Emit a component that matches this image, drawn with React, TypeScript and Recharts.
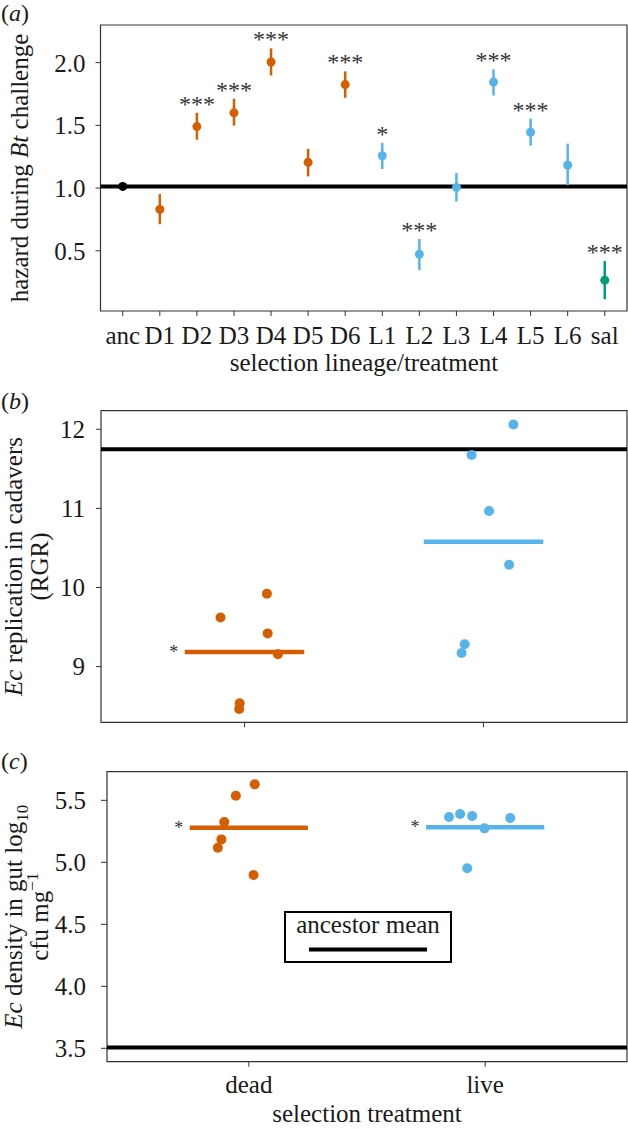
import React from 'react';
import {
  ScatterChart,
  Scatter,
  XAxis,
  YAxis,
  ErrorBar,
  ReferenceLine,
  ReferenceArea,
  Legend,
} from 'recharts';

const FONT = '"Liberation Serif", "Times New Roman", serif';
const FS = 25;
const ORANGE = '#D55E00';
const BLUE = '#56B4E9';
const GREEN = '#009E73';
const BLACK = '#000000';
const TXT = '#1a1a1a';
const FRAME = '#333333';

// ---------- Panel (a) ----------
const lineages = ['anc', 'D1', 'D2', 'D3', 'D4', 'D5', 'D6', 'L1', 'L2', 'L3', 'L4', 'L5', 'L6', 'sal'];
const lineageGroup = ['anc', 'D', 'D', 'D', 'D', 'D', 'D', 'L', 'L', 'L', 'L', 'L', 'L', 'sal'];
const hazard = [1.013, 0.83, 1.49, 1.6, 2.005, 1.205, 1.825, 1.258, 0.472, 1.005, 1.845, 1.445, 1.184, 0.266];
const hazardLow = [1.013, 0.712, 1.386, 1.498, 1.898, 1.093, 1.72, 1.152, 0.346, 0.893, 1.738, 1.338, 1.022, 0.114];
const hazardHigh = [1.013, 0.952, 1.6, 1.712, 2.114, 1.312, 1.93, 1.36, 0.594, 1.12, 1.946, 1.554, 1.354, 0.418];
const hazardSig = ['', '', '***', '***', '***', '', '***', '*', '***', '', '***', '***', '', '***'];
const hazardTicks = [0.5, 1.0, 1.5, 2.0];
const ancestorHazard = 1.013;

// ---------- Panel (b) ----------
const treatments = ['dead', 'live'];
const deadRGR = [9.62, 9.92, 9.42, 9.157, 8.536, 8.464];
const deadRGRJitter = [-0.1, 0.094, 0.097, 0.14, -0.02, -0.022];
const liveRGR = [12.06, 11.676, 10.967, 10.287, 9.283, 9.173];
const liveRGRJitter = [0.125, -0.05, 0.023, 0.107, -0.079, -0.092];
const meanRGR = [9.186, 10.578];
const sigRGR = ['*', ''];
const rgrTicks = [9, 10, 11, 12];
const ancestorRGR = 11.747;

// ---------- Panel (c) ----------
const deadDensity = [5.629, 5.537, 5.325, 5.185, 5.118, 4.898];
const deadDensityJitter = [0.025, -0.055, -0.104, -0.116, -0.131, 0.02];
const liveDensity = [5.366, 5.39, 5.374, 5.274, 5.357, 4.952];
const liveDensityJitter = [-0.153, -0.106, -0.055, -0.003, 0.106, -0.076];
const meanDensity = [5.279, 5.282];
const sigDensity = ['*', '*'];
const densityTicks = [3.5, 4.0, 4.5, 5.0, 5.5];
const ancestorDensity = 3.507;

// ---------- built tables ----------
const groupColor: Record<string, string> = { anc: BLACK, D: ORANGE, L: BLUE, sal: GREEN };
const hazardRows = lineages.map((name, i) => ({
  x: i,
  y: hazard[i],
  err: [hazard[i] - hazardLow[i], hazardHigh[i] - hazard[i]],
  group: lineageGroup[i],
}));
const hazardByGroup = (g: string) => hazardRows.filter((r) => r.group === g);
const hazardStars = lineages
  .map((_, i) => ({ x: i, y: hazardHigh[i], sig: hazardSig[i] }))
  .filter((r) => r.sig !== '');

const pts = (vals: number[], jit: number[], pos: number) =>
  vals.map((v, i) => ({ x: pos + jit[i], y: v }));
const meanStars = (means: number[], sig: string[]) =>
  means.map((m, i) => ({ x: i + 1 - 0.25, y: m, sig: sig[i] })).filter((r) => r.sig !== '');

const tickStyle = { fontFamily: FONT, fontSize: FS, fill: TXT };

const dot = (color: string, r: number) => (props: any) =>
  props.cx == null ? <g /> : <circle cx={props.cx} cy={props.cy} r={r} fill={color} />;

const bigStar = (props: any) =>
  props.cx == null ? (
    <g />
  ) : (
    <text x={props.cx} y={props.cy - 1} textAnchor="middle" fontFamily={FONT} fontSize={24} fill="#333">
      {props.payload.sig}
    </text>
  );

const smallStar = (props: any) =>
  props.cx == null ? (
    <g />
  ) : (
    <text x={props.cx - 11} y={props.cy + 6} textAnchor="middle" fontFamily={FONT} fontSize={18} fill="#333">
      {props.payload.sig}
    </text>
  );

const MeanSegments = ({ means, colors }: { means: number[]; colors: string[] }) => (
  <>
    {means.map((m, i) => (
      <ReferenceLine
        key={i}
        segment={[
          { x: i + 1 - 0.25, y: m },
          { x: i + 1 + 0.25, y: m },
        ]}
        stroke={colors[i]}
        strokeWidth={4.5}
        ifOverflow="visible"
      />
    ))}
  </>
);

function PanelA() {
  return (
    <ScatterChart width={628} height={380} margin={{ top: 25, right: 1, bottom: 0, left: 0 }}>
      <XAxis
        type="number"
        dataKey="x"
        domain={[-0.6, 13.6]}
        ticks={lineages.map((_, i) => i)}
        tickFormatter={(v: number) => lineages[v]}
        interval={0}
        allowDataOverflow
        axisLine={false}
        tickLine={{ stroke: FRAME }}
        tickSize={5}
        tickMargin={10}
        height={69}
        tick={tickStyle}
      />
      <YAxis
        type="number"
        dataKey="y"
        domain={[0.02, 2.3]}
        ticks={hazardTicks}
        tickFormatter={(v: number) => v.toFixed(1)}
        allowDataOverflow
        axisLine={false}
        tickLine={{ stroke: FRAME }}
        tickSize={5}
        tickMargin={10}
        width={100.5}
        tick={tickStyle}
      />
      <ReferenceArea x1={-0.6} x2={13.6} y1={0.02} y2={2.3} fill="none" stroke={FRAME} strokeWidth={1.2} ifOverflow="visible" />
      <ReferenceLine y={ancestorHazard} stroke={BLACK} strokeWidth={4} />
      {['anc', 'D', 'L', 'sal'].map((g) => (
        <Scatter key={g} data={hazardByGroup(g)} shape={dot(groupColor[g], 4.5)} isAnimationActive={false}>
          <ErrorBar dataKey="err" direction="y" width={0} stroke={groupColor[g]} strokeWidth={2.5} />
        </Scatter>
      ))}
      <Scatter data={hazardStars} shape={bigStar} isAnimationActive={false} />
      <text x={1} y={21} fontFamily={FONT} fontSize={24} fill={TXT}>
        (<tspan fontStyle="italic">a</tspan>)
      </text>
      <text transform="translate(28,168) rotate(-90)" textAnchor="middle" fontFamily={FONT} fontSize={FS} fill={TXT}>
        hazard during <tspan fontStyle="italic">Bt</tspan> challenge
      </text>
      <text x={364} y={371} textAnchor="middle" fontFamily={FONT} fontSize={FS} fill={TXT}>
        selection lineage/treatment
      </text>
    </ScatterChart>
  );
}

function PanelB() {
  return (
    <ScatterChart width={628} height={360} margin={{ top: 30.7, right: 1, bottom: 0, left: 0 }}>
      <XAxis
        type="number"
        dataKey="x"
        domain={[0.4, 2.6]}
        ticks={[1, 2]}
        tickFormatter={() => ''}
        allowDataOverflow
        axisLine={false}
        tickLine={{ stroke: FRAME }}
        tickSize={5}
        height={17.7}
        tick={tickStyle}
      />
      <YAxis
        type="number"
        dataKey="y"
        domain={[8.296, 12.235]}
        ticks={rgrTicks}
        allowDataOverflow
        axisLine={false}
        tickLine={{ stroke: FRAME }}
        tickSize={5}
        tickMargin={11}
        width={101}
        tick={tickStyle}
      />
      <ReferenceArea x1={0.4} x2={2.6} y1={8.296} y2={12.235} fill="none" stroke={FRAME} strokeWidth={1.2} ifOverflow="visible" />
      <ReferenceLine y={ancestorRGR} stroke={BLACK} strokeWidth={4} />
      <Scatter data={pts(deadRGR, deadRGRJitter, 1)} shape={dot(ORANGE, 5)} isAnimationActive={false} />
      <Scatter data={pts(liveRGR, liveRGRJitter, 2)} shape={dot(BLUE, 5)} isAnimationActive={false} />
      {MeanSegments({ means: meanRGR, colors: [ORANGE, BLUE] })}
      <Scatter data={meanStars(meanRGR, sigRGR)} shape={smallStar} isAnimationActive={false} />
      <text x={1} y={29} fontFamily={FONT} fontSize={24} fill={TXT}>
        (<tspan fontStyle="italic">b</tspan>)
      </text>
      <text transform="translate(22,186.5) rotate(-90)" textAnchor="middle" fontFamily={FONT} fontSize={FS} fill={TXT}>
        <tspan fontStyle="italic">Ec</tspan> replication in cadavers
      </text>
      <text transform="translate(48,186.5) rotate(-90)" textAnchor="middle" fontFamily={FONT} fontSize={FS} fill={TXT}>
        (RGR)
      </text>
    </ScatterChart>
  );
}

const LegendBox = () => (
  <svg width={168} height={52} style={{ display: 'block' }}>
    <rect x={1} y={1} width={166} height={50} fill="#fff" stroke="#000" strokeWidth={2} />
    <text x={84} y={22} textAnchor="middle" fontFamily={FONT} fontSize={FS} fill={TXT}>
      ancestor mean
    </text>
    <line x1={25} x2={143} y1={38.5} y2={38.5} stroke="#000" strokeWidth={4} />
  </svg>
);

function PanelC() {
  return (
    <ScatterChart width={628} height={389} margin={{ top: 31.7, right: 1, bottom: 0, left: 0 }}>
      <XAxis
        type="number"
        dataKey="x"
        domain={[0.4, 2.6]}
        ticks={[1, 2]}
        tickFormatter={(v: number) => treatments[v - 1]}
        allowDataOverflow
        axisLine={false}
        tickLine={{ stroke: FRAME }}
        tickSize={5}
        tickMargin={8.5}
        height={67.3}
        tick={tickStyle}
      />
      <YAxis
        type="number"
        dataKey="y"
        domain={[3.392, 5.731]}
        ticks={densityTicks}
        tickFormatter={(v: number) => v.toFixed(1)}
        allowDataOverflow
        axisLine={false}
        tickLine={{ stroke: FRAME }}
        tickSize={6}
        tickMargin={15}
        width={107}
        tick={tickStyle}
      />
      <ReferenceArea x1={0.4} x2={2.6} y1={3.392} y2={5.731} fill="none" stroke={FRAME} strokeWidth={1.2} ifOverflow="visible" />
      <ReferenceLine y={ancestorDensity} stroke={BLACK} strokeWidth={4} />
      <Scatter data={pts(deadDensity, deadDensityJitter, 1)} shape={dot(ORANGE, 5)} isAnimationActive={false} />
      <Scatter data={pts(liveDensity, liveDensityJitter, 2)} shape={dot(BLUE, 5)} isAnimationActive={false} />
      {MeanSegments({ means: meanDensity, colors: [ORANGE, BLUE] })}
      <Scatter data={meanStars(meanDensity, sigDensity)} shape={smallStar} isAnimationActive={false} />
      <Legend
        layout="horizontal"
        verticalAlign="middle"
        align="center"
        content={() => <LegendBox />}
        wrapperStyle={{ position: 'absolute', left: 283.5, top: 171, width: 168, height: 52 }}
      />
      <text x={1} y={29} fontFamily={FONT} fontSize={24} fill={TXT}>
        (<tspan fontStyle="italic">c</tspan>)
      </text>
      <text transform="translate(22,176.7) rotate(-90)" textAnchor="middle" fontFamily={FONT} fontSize={FS} fill={TXT}>
        <tspan fontStyle="italic">Ec</tspan> density in gut log
        <tspan fontSize={17} dy={6}>10</tspan>
      </text>
      <text transform="translate(48,176.7) rotate(-90)" textAnchor="middle" fontFamily={FONT} fontSize={FS} fill={TXT}>
        cfu mg<tspan fontSize={17} dy={-10}>−1</tspan>
      </text>
      <text x={367} y={382} textAnchor="middle" fontFamily={FONT} fontSize={FS} fill={TXT}>
        selection treatment
      </text>
    </ScatterChart>
  );
}

export default function App() {
  return (
    <div style={{ position: 'absolute', left: 0, top: 0, width: 628, height: 1129, background: '#fff' }}>
      <div style={{ position: 'absolute', left: 0, top: 0 }}>
        <PanelA />
      </div>
      <div style={{ position: 'absolute', left: 0, top: 380 }}>
        <PanelB />
      </div>
      <div style={{ position: 'absolute', left: 0, top: 740 }}>
        <PanelC />
      </div>
    </div>
  );
}
